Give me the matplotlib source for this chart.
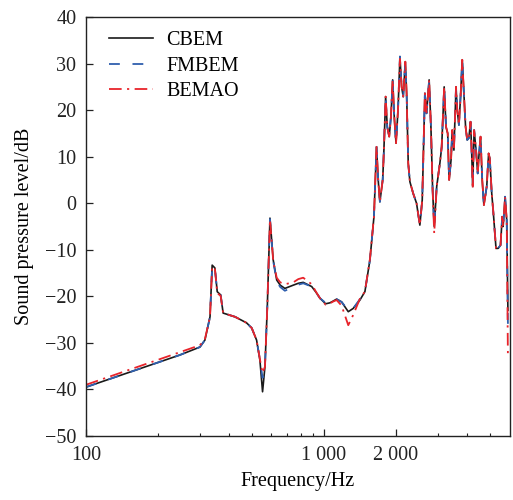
import matplotlib
matplotlib.use('Agg')
import matplotlib.pyplot as plt
from matplotlib.ticker import FixedLocator, FixedFormatter, NullFormatter

plt.rcParams['font.family'] = ['Liberation Serif', 'DejaVu Serif']
plt.rcParams['font.size'] = 14.5

# 频率点 (Hz)
freq = [100, 248, 301, 316, 332, 339, 348, 356, 368, 377, 423, 473, 497, 521, 538,
        552, 565, 578, 593, 612, 633, 655, 685, 743, 780, 818, 888, 925, 962, 1016, 1059, 1095, 1130, 1186,
        1265, 1327, 1416, 1486, 1560, 1622, 1663, 1690, 1718, 1765, 1786, 1816, 1845,
        1880, 1912, 1944, 1974, 2008, 2047, 2086, 2120, 2153, 2197, 2225, 2260, 2297,
        2371, 2449, 2529, 2588, 2655, 2698, 2767, 2815, 2862, 2906, 2977, 3070, 3124,
        3200, 3258, 3311, 3357, 3420, 3459, 3516, 3589, 3631, 3690, 3750, 3811, 3873,
        3936, 3999, 4064, 4130, 4169, 4217, 4276, 4355, 4426, 4487, 4550, 4624, 4699,
        4831, 4920, 4977, 5070, 5140, 5284, 5395, 5521, 5610, 5662, 5768, 5861, 5929]

cbem = [-39.5, -32.6, -30.9, -29.4, -24.4, -13.3, -13.9, -19.0, -19.7, -23.6, -24.4, -25.7, -26.8, -29.4, -33.7,
        -40.5, -35.1, -22.2, -3.2, -12.2, -16.5, -17.6, -18.3, -17.6, -17.2, -17.0, -17.9, -19.1, -20.4, -21.6, -21.4, -21.0, -20.6, -21.2,
        -23.3, -22.6, -20.8, -19.0, -12.2, -2.9, 12.1, 5.0, 0.3, 5.0, 11.4, 22.9, 16.4,
        14.3, 18.6, 26.5, 18.6, 12.9, 20.0, 31.5, 25.0, 22.9, 30.4, 23.6, 8.6, 4.6,
        2.1, 0.0, -4.7, 0.7, 23.6, 19.3, 26.5, 16.4, 2.8, -5.0, 3.6, 8.6, 12.1,
        25.0, 16.4, 15.0, 5.0, 9.3, 15.7, 11.4, 25.0, 20.0, 16.8, 22.9, 30.8, 23.6,
        16.4, 13.6, 14.0, 17.5, 12.1, 3.6, 15.7, 11.4, 6.4, 10.7, 14.3, 5.0, -0.4,
        3.6, 10.7, 9.6, 2.1, -1.5, -9.7, -9.7, -9.0, -2.9, -5.0, 1.4, -3.6, -23.0]

fmbem = [-39.5, -32.6, -30.9, -29.4, -24.4, -13.6, -14.0, -19.0, -19.7, -23.6, -24.4, -25.7, -26.8, -29.4, -33.5,
         -37.5, -35.1, -22.2, -3.4, -12.4, -16.8, -18.0, -18.8, -18.0, -17.5, -17.2, -17.9, -19.1, -20.4, -21.4, -21.3, -21.0, -20.6, -21.2,
         -23.0, -22.6, -20.6, -19.0, -12.2, -2.9, 12.1, 5.0, 0.3, 5.0, 11.4, 22.9, 16.4,
         14.3, 18.6, 26.5, 18.6, 12.9, 20.0, 31.5, 25.0, 22.9, 30.4, 23.6, 8.6, 4.6,
         2.1, 0.0, -4.7, 0.7, 23.6, 19.3, 26.5, 16.4, 2.8, -5.2, 3.6, 8.6, 12.1,
         25.0, 16.4, 15.0, 5.0, 9.3, 15.7, 11.4, 25.0, 20.0, 16.8, 22.9, 30.8, 23.6,
         16.4, 13.6, 14.0, 17.5, 12.1, 3.6, 15.7, 11.4, 6.4, 10.7, 14.3, 5.0, -0.4,
         3.6, 10.7, 9.6, 2.1, -1.5, -9.7, -9.7, -9.0, -2.9, -5.0, 1.4, -3.6, -26.0]

bemao = [-39.0, -32.0, -30.5, -29.2, -24.4, -13.6, -14.0, -19.3, -19.9, -23.6, -24.4, -25.7, -26.8, -29.4, -33.5,
         -36.5, -35.1, -22.2, -3.5, -12.4, -16.0, -17.0, -17.4, -17.0, -16.3, -16.0, -17.4, -19.0, -20.4, -21.8, -21.5, -21.1, -20.8, -22.0,
         -26.2, -24.0, -20.5, -19.0, -12.0, -2.9, 12.1, 5.0, 0.3, 5.0, 11.4, 22.9, 16.4,
         14.3, 18.6, 26.5, 18.6, 12.9, 20.0, 31.0, 25.0, 22.9, 30.4, 23.6, 8.6, 4.6,
         2.1, 0.0, -4.7, 0.7, 23.6, 19.3, 26.5, 16.4, 2.8, -6.5, 3.6, 8.6, 12.1,
         25.0, 16.4, 15.0, 5.0, 9.3, 15.7, 11.4, 25.0, 20.0, 16.8, 22.9, 30.8, 23.6,
         16.4, 13.6, 14.0, 17.5, 12.1, 3.0, 15.7, 11.4, 6.4, 10.7, 14.3, 5.0, -0.4,
         3.6, 10.7, 9.6, 2.1, -1.5, -9.7, -9.7, -9.0, -2.9, -5.0, 1.4, -3.6, -33.0]

major_ticks = [100, 1000, 2000]
major_labels = ['100', '1 000', '2 000']
minor_ticks = [200, 300, 400, 500, 600, 700, 800, 900, 3000, 4000, 5000]
y_ticks = [40, 30, 20, 10, 0, -10, -20, -30, -40, -50]

fig = plt.figure(figsize=(5.13, 5.00), dpi=100)
ax = fig.add_axes([86 / 513, 1 - 436 / 500, 424 / 513, 419 / 500])

ax.plot(freq, cbem, color='#1a1a1a', lw=1.2, label='CBEM')
ax.plot(freq, fmbem, color='#2f5fae', lw=1.3, dashes=(6, 7), label='FMBEM')
ax.plot(freq, bemao, color='#e8242b', lw=1.3, dashes=(7, 3, 1.2, 3), label='BEMAO')

ax.set_xscale('log')
ax.set_xlim(100, 6050)
ax.set_ylim(-50, 40)

ax.xaxis.set_major_locator(FixedLocator(major_ticks))
ax.xaxis.set_major_formatter(FixedFormatter(major_labels))
ax.xaxis.set_minor_locator(FixedLocator(minor_ticks))
ax.xaxis.set_minor_formatter(NullFormatter())
ax.set_yticks(y_ticks)

ax.tick_params(which='major', direction='in', length=5, width=0.9, pad=7, colors='#222222')
ax.tick_params(which='minor', direction='in', length=2.5, width=0.8, colors='#222222')
ax.tick_params(axis='y', pad=7)
for sp in ax.spines.values():
    sp.set_linewidth(1.0)
    sp.set_color('#222222')

ax.set_xlabel('Frequency/Hz', labelpad=5)
ax.set_ylabel('Sound pressure level/dB', labelpad=8)

ax.legend(loc='upper left', frameon=False, handlelength=2.2, handletextpad=0.65,
          labelspacing=0.32, borderaxespad=0.3, bbox_to_anchor=(0.02, 1.0))

fig.savefig('out.png', dpi=100)
